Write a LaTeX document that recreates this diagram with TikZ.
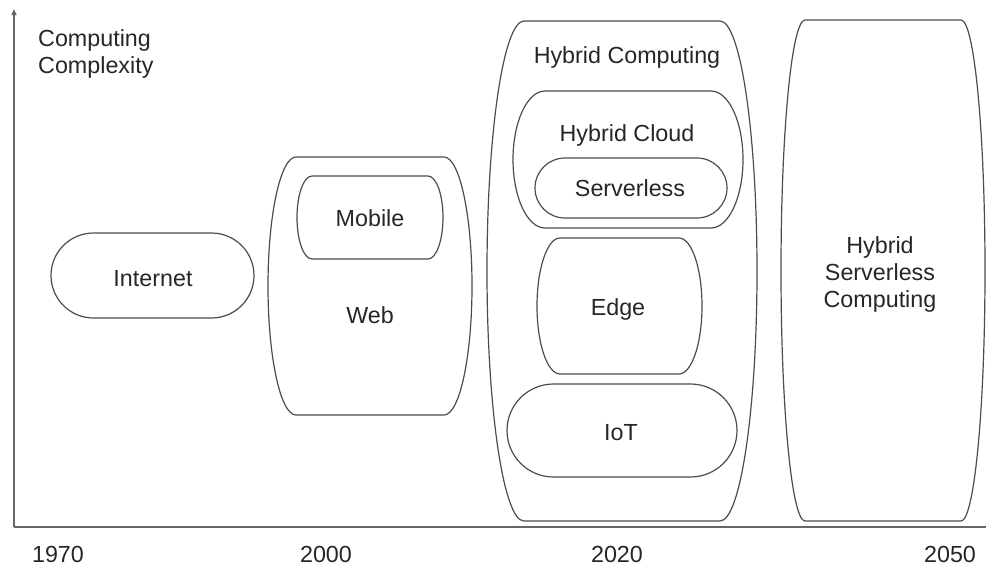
\documentclass[tikz,border=0pt]{standalone}
\usepackage{fontspec}
\setmainfont{Liberation Sans}
\usetikzlibrary{arrows.meta}
\newcommand\capsulepath[6]{% name x1 y1 x2 y2 rx
  \pgfmathsetmacro\cxa{#2+#6}\pgfmathsetmacro\cxb{#4-#6}%
  \pgfmathsetmacro\ym{(#3+#5)/2}\pgfmathsetmacro\ry{(#5-#3)/2}%
  \pgfmathsetmacro\kx{0.5523*#6}\pgfmathsetmacro\ky{0.5523*\ry}%
  \draw[shp] (\cxa,#3) coordinate (#1) -- (\cxb,#3)
    .. controls ({\cxb+\kx},#3) and (#4,{\ym-\ky}) .. (#4,\ym)
    .. controls (#4,{\ym+\ky}) and ({\cxb+\kx},#5) .. (\cxb,#5)
    -- (\cxa,#5)
    .. controls ({\cxa-\kx},#5) and (#2,{\ym+\ky}) .. (#2,\ym)
    .. controls (#2,{\ym-\ky}) and ({\cxa-\kx},#3) .. (\cxa,#3) -- cycle;}
\begin{document}
\begin{tikzpicture}[x=1pt,y=-1pt,
  shp/.style={draw=black!70,line width=1.2pt},
  axisline/.style={draw=black!60,line width=1.5pt},
  lbl/.style={inner sep=0pt,anchor=base,text=black!85,font=\fontsize{23.3}{27}\selectfont}]
\useasboundingbox (0,0) rectangle (986,566);
% axes
\coordinate (origin) at (14,527);
\coordinate (ytop) at (14,9);
\coordinate (xend) at (986,527);
\draw[axisline,-{Triangle[length=6pt,width=5pt]}] (origin) -- (ytop);
\draw[axisline] (origin) -- (xend);
\node[lbl,anchor=base west,align=left] (ylab) at (38,73) {Computing\\Complexity};
\node[lbl] (y1970) at (58,562) {1970};
\node[lbl] (y2000) at (326,562) {2000};
\node[lbl] (y2020) at (617,562) {2020};
\node[lbl] (y2050) at (950,562) {2050};
% shapes
\capsulepath{internetS}{51}{233}{254}{318}{42.5}
\capsulepath{webS}{268}{157}{472}{415}{28}
\capsulepath{mobileS}{297}{176}{443}{259}{15}
\capsulepath{hcS}{487}{21}{757}{521}{37}
\capsulepath{hcloudS}{513}{91}{743}{228}{32}
\capsulepath{serverlessS}{535}{158}{727}{218}{30}
\capsulepath{edgeS}{537}{238}{702}{374}{23}
\capsulepath{iotS}{507}{384}{737}{477}{46.5}
\capsulepath{hscS}{781}{20}{985}{521}{24}
% texts
\node[lbl] (internet) at (153,286) {Internet};
\node[lbl] (mobile) at (370,226) {Mobile};
\node[lbl] (web) at (370,323) {Web};
\node[lbl] (hc) at (627,63) {Hybrid Computing};
\node[lbl] (hcloud) at (627,141) {Hybrid Cloud};
\node[lbl] (serverless) at (630,196) {Serverless};
\node[lbl] (edge) at (618,315) {Edge};
\node[lbl] (iot) at (621,440) {IoT};
\node[lbl,align=center] (hsc) at (880,307) {Hybrid\\Serverless\\Computing};
\end{tikzpicture}
\end{document}
